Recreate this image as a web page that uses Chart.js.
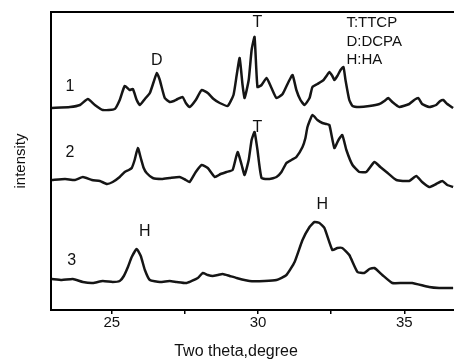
<!DOCTYPE html>
<html>
<head>
<meta charset="utf-8">
<script src="https://cdn.jsdelivr.net/npm/chart.js@4"></script>
<style>
  html, body { margin: 0; padding: 0; background: #fff; overflow: hidden; }
  canvas { display: block; }
</style>
</head>
<body>
<canvas id="xrdChart" width="454" height="361"></canvas>
<script>
// XRD patterns, [two theta (deg), intensity (a.u.)]
const pattern1 = [[22.95,202],[23.57,203],[23.91,205],[24.18,211],[24.42,205],[24.69,200],[25.10,201],[25.27,210],[25.44,224],[25.61,220],[25.72,221],[25.85,210],[25.96,205],[26.13,211],[26.30,217],[26.43,228],[26.54,237],[26.64,230],[26.81,212],[26.98,208],[27.12,209],[27.25,211],[27.42,213],[27.53,207],[27.66,203],[27.87,210],[28.07,220],[28.28,217],[28.48,211],[28.69,207],[28.96,204],[29.16,215],[29.27,235],[29.37,252],[29.47,225],[29.54,212],[29.68,230],[29.78,260],[29.88,273],[29.98,223],[30.12,225],[30.29,232],[30.46,222],[30.63,212],[30.84,216],[31.04,228],[31.18,235],[31.31,220],[31.45,210],[31.59,205],[31.76,212],[31.86,223],[32.03,226],[32.24,230],[32.34,234],[32.44,238],[32.54,234],[32.61,230],[32.71,234],[32.82,240],[32.92,243],[32.99,230],[33.12,210],[33.23,204],[33.46,203],[33.81,204],[34.15,206],[34.32,209],[34.45,212],[34.59,208],[34.83,203],[35.17,206],[35.34,210],[35.48,212],[35.61,206],[35.85,203],[36.09,205],[36.23,209],[36.33,210],[36.47,206],[36.67,202]];

const pattern2 = [[22.95,130],[23.40,131],[23.74,130],[24.01,133],[24.32,130],[24.59,129],[24.83,126],[25.03,128],[25.27,133],[25.44,138],[25.58,140],[25.68,142],[25.78,150],[25.89,162],[25.99,152],[26.09,142],[26.19,137],[26.40,132],[26.71,131],[26.98,132],[27.32,133],[27.53,130],[27.66,128],[27.87,138],[28.07,145],[28.28,142],[28.52,133],[28.72,136],[28.92,138],[29.13,140],[29.30,158],[29.44,145],[29.54,135],[29.68,150],[29.78,170],[29.88,178],[29.98,160],[30.12,132],[30.39,131],[30.63,133],[30.80,138],[30.97,147],[31.14,150],[31.31,153],[31.52,163],[31.62,172],[31.69,183],[31.86,195],[32.03,190],[32.20,187],[32.34,186],[32.44,185],[32.61,162],[32.75,170],[32.88,175],[33.02,160],[33.23,145],[33.46,138],[33.70,138],[33.98,148],[34.18,143],[34.39,138],[34.73,130],[35.17,129],[35.41,134],[35.61,128],[35.85,123],[36.09,126],[36.30,129],[36.47,125],[36.67,123]];

const pattern3 = [[22.95,31],[23.29,30],[23.67,31],[24.01,28],[24.35,27],[24.69,29],[25.03,28],[25.27,29],[25.41,34],[25.55,43],[25.68,53],[25.85,61],[25.99,54],[26.13,40],[26.30,30],[26.64,28],[26.98,29],[27.22,28],[27.56,27],[27.94,32],[28.11,37],[28.28,35],[28.45,34],[28.62,35],[28.79,36],[29.03,34],[29.27,32],[29.71,29],[30.22,29],[30.63,30],[30.97,35],[31.25,48],[31.52,70],[31.76,83],[31.93,88],[32.10,87],[32.27,82],[32.54,60],[32.71,62],[32.88,62],[33.12,55],[33.40,38],[33.63,37],[33.81,41],[33.98,42],[34.25,35],[34.59,27],[34.93,27],[35.27,27],[35.85,23],[36.19,22],[36.67,22]];

// text placed at [two theta, intensity]
const curveNames = [[23.57,223,'1'],[23.57,157,'2'],[23.63,49,'3']];
const peakMarks = [[26.54,249,'D'],[29.98,287,'T'],[29.98,182,'T'],[26.13,78,'H'],[32.20,105,'H']];
const phaseKey = ['T:TTCP', 'D:DCPA', 'H:HA'];

const xMin = 22.92, xMax = 36.7;
const FONT = '"Liberation Sans", Arial, sans-serif';

const textPlugin = {
  id: 'xrdText',
  afterDatasetsDraw(chart) {
    const { ctx, scales: { x, y } } = chart;
    ctx.save();
    ctx.fillStyle = '#111';
    ctx.textBaseline = 'middle';
    ctx.textAlign = 'center';
    ctx.font = '16px ' + FONT;
    curveNames.concat(peakMarks).forEach(([t, v, s]) => {
      ctx.fillText(s, x.getPixelForValue(t), y.getPixelForValue(v));
    });
    // phase key, top right
    ctx.textAlign = 'left';
    ctx.font = '15px ' + FONT;
    phaseKey.forEach((s, i) => {
      ctx.fillText(s, x.getPixelForValue(33.02), y.getPixelForValue(287) + i * 18.5);
    });
    // x axis title
    ctx.textAlign = 'center';
    ctx.font = '16px ' + FONT;
    ctx.fillText('Two theta,degree', 236, 352);
    ctx.restore();
  }
};

const line = (data) => ({
  data: data.map(([t, v]) => ({ x: t, y: v })),
  borderColor: '#151515',
  borderWidth: 2.5,
  pointRadius: 0,
  tension: 0.15,
  fill: false
});

new Chart(document.getElementById('xrdChart'), {
  type: 'line',
  data: { datasets: [line(pattern1), line(pattern2), line(pattern3)] },
  options: {
    responsive: false,
    animation: false,
    devicePixelRatio: 1,
    layout: { padding: { top: 12, left: 0, right: 0, bottom: 0 } },
    plugins: { legend: { display: false }, tooltip: { enabled: false } },
    scales: {
      x: {
        type: 'linear',
        min: xMin,
        max: xMax,
        afterFit: s => { s.height = 51; },
        border: { color: '#000', width: 2 },
        grid: { display: true, drawOnChartArea: false, drawTicks: true, tickLength: 4, color: '#000', lineWidth: 1.5 },
        ticks: {
          stepSize: 2.5,
          includeBounds: false,
          padding: 0,
          color: '#111',
          font: { family: FONT, size: 15 },
          maxRotation: 0,
          autoSkip: false,
          callback: v => (Math.abs(v % 5) < 1e-6 ? v : '')
        }
      },
      xTop: {
        type: 'linear',
        position: 'top',
        min: xMin,
        max: xMax,
        afterFit: s => { s.height = 0; },
        border: { color: '#000', width: 2 },
        grid: { display: false },
        ticks: { display: false }
      },
      y: {
        type: 'linear',
        min: 0,
        max: 298,
        afterFit: s => { s.width = 51; },
        border: { color: '#000', width: 2 },
        grid: { display: false },
        ticks: { display: false },
        title: {
          display: true,
          text: 'intensity',
          color: '#111',
          font: { family: FONT, size: 15 },
          padding: { top: 12, bottom: 0 }
        }
      }
    }
  },
  plugins: [textPlugin]
});
</script>
</body>
</html>
